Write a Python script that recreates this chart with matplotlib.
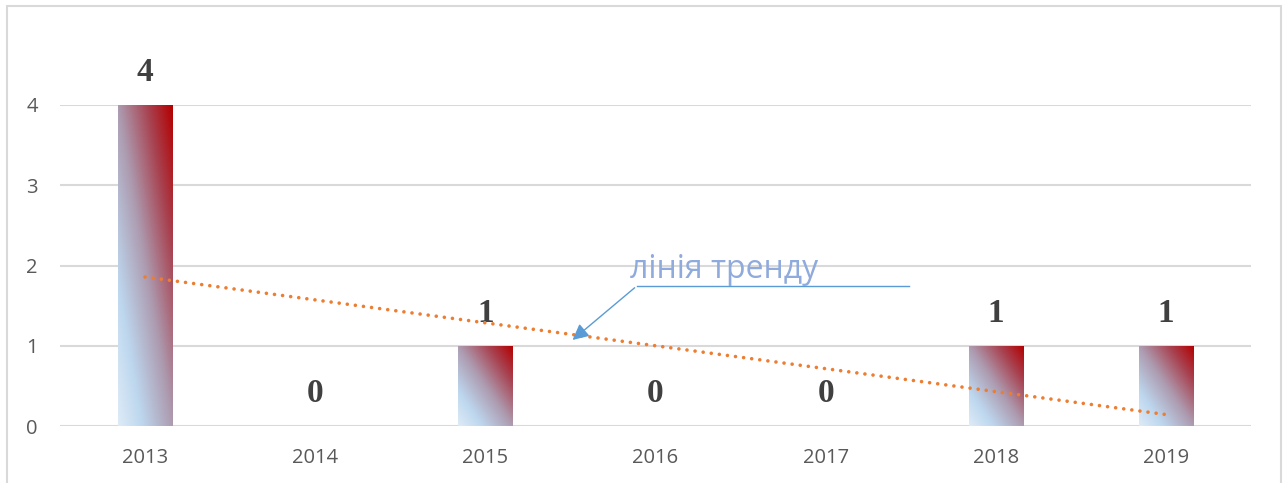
import numpy as np
import matplotlib
matplotlib.use('Agg')
import matplotlib.pyplot as plt
from matplotlib.colors import LinearSegmentedColormap
from matplotlib.patches import Rectangle

years = ['2013', '2014', '2015', '2016', '2017', '2018', '2019']
counts = [4, 0, 1, 0, 0, 1, 1]

fig = plt.figure(figsize=(12.88, 4.83), dpi=100)
ax = fig.add_axes([60/1288, 57/483, 1191/1288, 321/483])

# outer chart border (runs off the bottom like the screenshot)
fig.patches.append(Rectangle((7/1288, -0.05), 1274/1288, 1.05 - 6/483, transform=fig.transFigure,
                             fill=False, edgecolor='#d9d9d9', lw=1.5))

x = np.arange(len(years))
bars = ax.bar(x, counts, width=0.32, facecolor='none', edgecolor='none', zorder=2)

# diagonal gradient inside each bar
cmap = LinearSegmentedColormap.from_list('grad', [
    (0.0, '#deebf7'), (0.22, '#bdd7ee'), (0.5, '#ad9bb0'), (0.78, '#a8404e'), (1.0, '#b40000')])
u, v = np.meshgrid(np.linspace(0, 1, 100), np.linspace(0, 1, 100))
grad = (u + v) / 2
for b in bars:
    if b.get_height() == 0:
        continue
    x0, w, h = b.get_x(), b.get_width(), b.get_height()
    im = ax.imshow(grad, cmap=cmap, origin='lower', extent=[x0, x0 + w, 0, h],
                   aspect='auto', zorder=2, vmin=0, vmax=1)
    im.set_clip_path(b)

ax.bar_label(bars, labels=[str(c) for c in counts], padding=12,
             fontfamily='Liberation Serif', fontweight='bold', fontsize=24, color='#404040')

# linear trend line
k, c0 = np.polyfit(x, counts, 1)
ax.plot(x, k * x + c0, color='#ed7d31', lw=2.6, linestyle=(0, (0.01, 2.25)),
        dash_capstyle='round', zorder=3)

ax.set_xlim(-0.5, 6.5)
ax.set_ylim(0, 4)
ax.set_yticks([0, 1, 2, 3, 4])
ax.set_xticks(x, years)
ax.grid(axis='y', color='#d9d9d9', lw=1.5)
ax.set_axisbelow(True)
for s in ax.spines.values():
    s.set_visible(False)
ax.tick_params(length=0, labelsize=14.5, labelcolor='#595959')
ax.tick_params(axis='y', pad=16)
ax.tick_params(axis='x', pad=16)
for t in ax.get_xticklabels() + ax.get_yticklabels():
    t.set_fontfamily('Open Sans')

# annotation
ax.text(2.85, 1.75, 'лінія тренду', fontsize=23, color='#8faadc', fontfamily='Open Sans',
        ha='left', va='bottom')
ax.plot([2.89, 4.49], [1.745, 1.745], color='#5b9bd5', lw=1)
ax.annotate('', xy=(2.50, 1.05), xytext=(2.89, 1.745),
            arrowprops=dict(arrowstyle='-|>', color='#5b9bd5', lw=1, mutation_scale=24))

fig.savefig('out.png', dpi=100)
